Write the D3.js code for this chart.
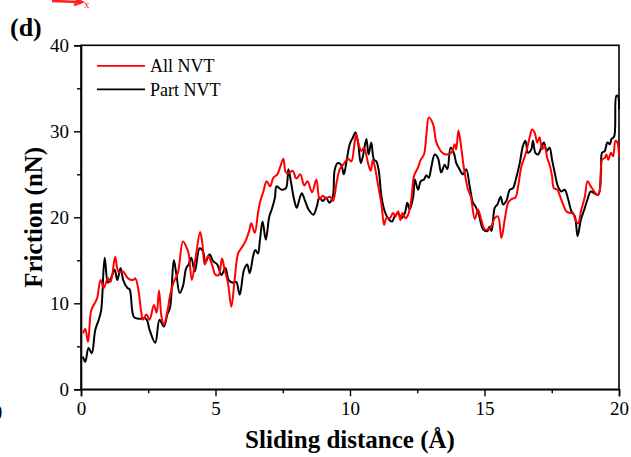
<!DOCTYPE html>
<html>
<head>
<meta charset="utf-8">
<script src="https://cdn.jsdelivr.net/npm/d3@7"></script>
<style>
  body { margin: 0; background: #fff; }
  text { font-family: "Liberation Serif", "Times New Roman", serif; }
  .tick text { font-size: 19px; }
  .axis-label { font-size: 25px; font-weight: bold; }
  .legend text { font-size: 18px; }
</style>
</head>
<body>
<div id="chart"></div>
<script>
// series names
const seriesNames = ["All NVT", "Part NVT"];
const seriesColors = ["#ff0000", "#000000"];

// All NVT (red)
const allX = [0.07,0.16,0.26,0.38,0.51,0.6,0.73,0.85,1.0,1.1,1.27,1.38,1.47,1.56,1.75,1.93,2.02,2.12,2.24,2.3,2.43,2.55,2.71,2.81,2.9,2.99,3.08,3.23,3.31,3.45,3.6,3.79,3.91,4.0,4.12,4.25,4.43,4.51,4.6,4.72,4.87,5.0,5.12,5.24,5.34,5.46,5.59,5.71,5.84,5.96,6.11,6.25,6.33,6.46,6.58,6.65,6.78,6.9,7.03,7.15,7.3,7.4,7.52,7.62,7.75,7.87,8.01,8.15,8.3,8.42,8.59,8.75,8.87,8.99,9.11,9.25,9.37,9.5,9.62,9.74,9.83,9.93,10.05,10.17,10.23,10.32,10.42,10.52,10.67,10.77,10.85,10.94,11.04,11.17,11.27,11.35,11.48,11.6,11.69,11.79,11.87,11.95,12.06,12.16,12.28,12.38,12.53,12.63,12.75,12.84,12.93,13.09,13.2,13.3,13.4,13.58,13.77,13.89,13.95,14.03,14.14,14.24,14.39,14.49,14.64,14.76,14.88,15.01,15.13,15.26,15.38,15.5,15.63,15.75,15.88,16.0,16.15,16.25,16.37,16.5,16.59,16.68,16.77,16.87,16.96,17.05,17.14,17.24,17.33,17.42,17.51,17.58,17.71,17.79,17.92,18.04,18.17,18.29,18.38,18.48,18.6,18.73,18.83,18.95,19.08,19.2,19.29,19.37,19.47,19.53,19.6,19.7,19.78,19.87,19.94,20.0];
const allY = [6.5,7.0,5.5,9.2,10.0,10.6,12.7,11.8,12.9,12.5,15.4,13.7,13.6,13.7,12.9,12.7,12.9,11.8,9.0,8.1,8.7,8.1,9.8,8.9,11.5,8.5,7.5,9.4,10.9,12.5,13.5,17.2,16.6,15.8,12.7,15.1,18.3,17.0,14.5,15.5,14.5,13.3,13.3,15.2,13.9,12.4,9.6,12.7,15.8,16.4,17.2,18.4,19.3,18.2,20.5,21.7,23.0,24.2,23.6,24.6,25.0,25.8,26.8,25.2,25.2,25.4,24.5,25.0,23.7,24.2,22.9,24.4,22.1,22.5,22.2,22.4,21.9,24.0,25.6,26.1,26.5,26.8,26.5,28.7,29.6,28.5,27.7,28.1,26.3,25.4,26.7,25.6,23.8,21.5,19.1,19.9,19.9,20.5,20.1,20.7,19.7,20.5,19.9,20.3,22.1,24.8,25.8,26.7,27.3,29.6,31.6,30.8,28.8,28.1,27.6,27.3,27.5,28.5,27.9,30.1,28.0,25.6,23.2,22.4,19.8,20.9,19.7,18.6,18.6,19.0,19.9,20.1,17.6,19.7,21.7,22.1,22.3,23.6,25.9,27.1,28.1,29.3,30.2,29.8,28.7,29.3,27.9,28.3,26.9,26.1,24.8,23.4,23.2,22.6,21.5,20.7,20.5,20.5,19.7,19.3,20.9,22.4,24.2,23.6,23.0,22.6,23.2,26.7,26.9,27.3,26.7,27.5,27.1,28.9,28.7,27.1];

// Part NVT (black)
const partX = [0.07,0.16,0.28,0.4,0.53,0.66,0.75,0.88,1.0,1.1,1.25,1.35,1.47,1.57,1.72,1.81,1.97,2.18,2.42,2.55,2.76,2.92,3.08,3.21,3.31,3.45,3.54,3.67,3.79,3.91,4.0,4.1,4.23,4.41,4.54,4.62,4.78,4.91,5.07,5.22,5.37,5.49,5.65,5.77,5.9,6.06,6.18,6.27,6.4,6.48,6.58,6.65,6.75,6.87,7.0,7.09,7.21,7.27,7.46,7.62,7.71,7.8,7.92,8.02,8.12,8.21,8.33,8.46,8.64,8.77,8.86,8.99,9.11,9.23,9.36,9.43,9.54,9.67,9.77,9.86,9.99,10.11,10.2,10.3,10.4,10.48,10.61,10.69,10.79,10.89,10.98,11.07,11.17,11.29,11.41,11.56,11.66,11.79,11.91,12.04,12.13,12.22,12.35,12.41,12.53,12.63,12.75,12.84,12.93,13.02,13.15,13.27,13.39,13.52,13.62,13.74,13.86,13.95,14.07,14.2,14.32,14.45,14.57,14.66,14.79,14.95,15.11,15.18,15.26,15.38,15.48,15.6,15.69,15.81,15.94,16.06,16.18,16.31,16.43,16.52,16.62,16.74,16.8,16.89,16.99,17.11,17.21,17.31,17.42,17.51,17.61,17.73,17.86,17.98,18.11,18.23,18.36,18.46,18.58,18.71,18.83,18.95,19.08,19.23,19.33,19.37,19.47,19.57,19.66,19.72,19.82,19.9,19.96,20.0];
const partY = [3.8,3.2,4.8,4.2,6.9,8.1,9.2,15.3,12.4,12.8,13.9,12.7,14.1,12.7,11.8,11.6,8.4,8.2,8.2,6.9,5.4,8.1,7.3,8.7,9.5,15.0,13.5,11.2,12.0,14.1,14.5,15.3,13.7,16.4,16.0,14.7,15.7,14.9,14.5,13.3,14.1,12.7,12.4,12.5,11.0,13.9,14.5,13.5,15.5,16.2,15.8,17.3,19.5,17.4,20.1,20.9,22.3,23.6,23.2,23.4,25.6,24.2,22.1,21.1,22.1,22.8,21.9,20.9,20.3,21.3,22.3,21.9,22.3,21.7,22.4,25.5,26.3,26.1,25.0,26.3,28.5,29.3,29.9,28.7,26.3,27.1,29.1,27.3,28.7,26.7,26.5,25.4,22.4,20.7,19.9,19.5,20.1,20.5,19.9,20.5,21.7,20.9,22.4,24.4,23.2,24.2,24.4,24.9,24.6,25.8,27.3,26.9,25.2,26.1,25.6,28.1,27.5,26.3,25.6,25.0,25.6,23.6,21.7,21.3,20.3,18.6,18.4,18.9,18.4,21.1,21.5,22.4,21.5,21.9,23.2,23.4,24.6,26.3,28.3,28.9,27.5,27.9,28.9,27.5,27.3,28.1,28.7,27.7,28.1,26.7,25.2,23.6,23.0,23.2,22.1,20.7,20.1,17.8,19.7,20.9,22.1,23.0,22.8,22.6,25.2,27.5,27.7,28.7,28.5,29.1,29.4,34.1,34.1,32.6];

const xTicks = [0, 5, 10, 15, 20];
const xMinorTicks = [2.5, 7.5, 12.5, 17.5];
const yTicks = [0, 10, 20, 30, 40];
const yMinorTicks = [5, 15, 25, 35];

const width = 631, height = 457;
const margin = {top: 45.3, right: 12, bottom: 67.7, left: 81};
const innerWidth = width - margin.left - margin.right;
const innerHeight = height - margin.top - margin.bottom;

const svg = d3.select("#chart").append("svg")
  .attr("width", width)
  .attr("height", height);

// fragments of neighbouring panels
svg.append("path")
  .attr("d", "M52,1 L80,2 M74,-2 L82,2 L74,5")
  .attr("stroke", "#ff2020").attr("stroke-width", 2.5).attr("fill", "none");
svg.append("text").attr("x", 84).attr("y", 8).attr("fill", "#ff2020")
  .style("font-size", "11px").text("x");
svg.append("text").attr("x", -4).attr("y", 417).style("font-size", "19px").text(")");

svg.append("text")
  .attr("x", 10).attr("y", 36)
  .style("font-size", "26px").style("font-weight", "bold")
  .text("(d)");

const g = svg.append("g")
  .attr("transform", `translate(${margin.left}, ${margin.top})`);

const xScale = d3.scaleLinear().domain([0, 20]).range([0, innerWidth]);
const yScale = d3.scaleLinear().domain([0, 40]).range([innerHeight, 0]);

// frame
g.append("rect")
  .attr("width", innerWidth).attr("height", innerHeight)
  .attr("fill", "none").attr("stroke", "#000").attr("stroke-width", 1.6);

g.append("g")
  .attr("transform", `translate(0, ${innerHeight})`)
  .call(d3.axisBottom(xScale).tickValues(xTicks).tickSize(7).tickPadding(5));
g.append("g")
  .attr("transform", `translate(0, ${innerHeight})`)
  .call(d3.axisBottom(xScale).tickValues(xMinorTicks).tickSize(4).tickFormat(""))
  .select(".domain").remove();

g.append("g")
  .call(d3.axisLeft(yScale).tickValues(yTicks).tickSize(7).tickPadding(5));
g.append("g")
  .call(d3.axisLeft(yScale).tickValues(yMinorTicks).tickSize(4).tickFormat(""))
  .select(".domain").remove();

g.selectAll(".domain").attr("stroke-width", 1.6);
g.selectAll(".tick line").attr("stroke-width", 1.4);
g.selectAll(".tick text").attr("fill", "#000")
  .style("font-family", "'Liberation Serif', serif");

// axis labels
svg.append("text")
  .attr("class", "axis-label")
  .attr("x", margin.left + innerWidth / 2)
  .attr("y", 448)
  .attr("text-anchor", "middle")
  .text("Sliding distance (Å)");

svg.append("text")
  .attr("class", "axis-label")
  .attr("transform", `translate(42, ${margin.top + innerHeight / 2}) rotate(-90)`)
  .attr("text-anchor", "middle")
  .text("Friction (nN)");

// lines
const line = d3.line()
  .x(d => xScale(d[0]))
  .y(d => yScale(d[1]))
  .curve(d3.curveCatmullRom.alpha(0.5));

const seriesData = [
  d3.zip(allX, allY),
  d3.zip(partX, partY)
];

// black first so red sits on top
[1, 0].forEach(i => {
  g.append("path")
    .attr("d", line(seriesData[i]))
    .attr("fill", "none")
    .attr("stroke", seriesColors[i])
    .attr("stroke-width", 2)
    .attr("stroke-linejoin", "round");
});

// legend
const legend = g.append("g").attr("class", "legend")
  .attr("transform", "translate(16, 20.5)");
seriesNames.forEach((name, i) => {
  const row = legend.append("g").attr("transform", `translate(0, ${i * 23.5})`);
  row.append("line")
    .attr("x1", 0).attr("x2", 48)
    .attr("stroke", seriesColors[i]).attr("stroke-width", 1.8);
  row.append("text")
    .attr("x", 53).attr("y", 6.5)
    .text(name);
});
</script>
</body>
</html>
